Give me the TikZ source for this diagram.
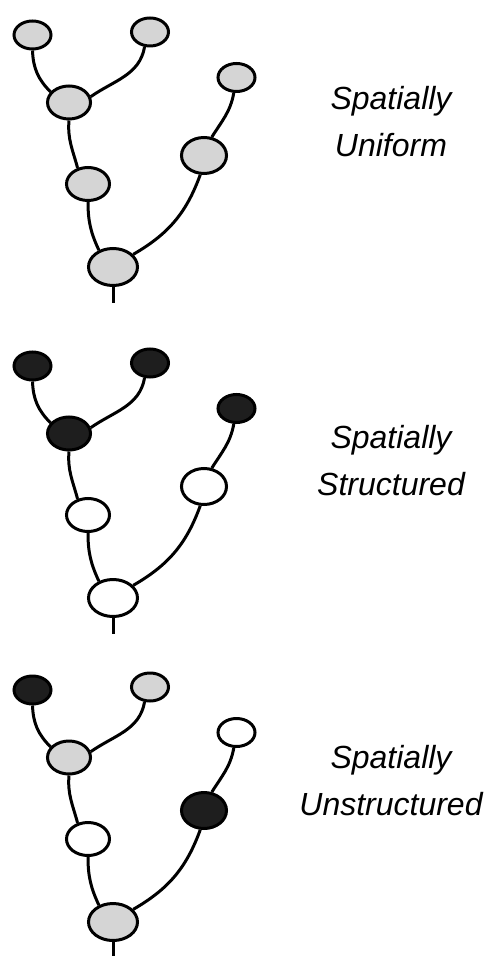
\documentclass[tikz,border=0pt]{standalone}
\usepackage{fontspec}
\setmainfont{Liberation Sans}
\usepackage{tikz}
\usetikzlibrary{shapes.geometric}
\definecolor{cgray}{HTML}{D5D5D5}
\definecolor{cdark}{HTML}{1E1E1E}

\begin{document}
\begin{tikzpicture}[x=0.5pt, y=0.5pt,
  cell/.style={draw, ellipse, line width=1.5pt, inner sep=0pt},
  leaf/.style={cell, minimum width=18.5pt, minimum height=14pt},
  inner/.style={cell, minimum width=21.5pt, minimum height=16.5pt},
  root/.style={cell, minimum width=24.5pt, minimum height=18.5pt},
  branch/.style={line width=1.5pt},
  lbl/.style={font=\fontsize{16pt}{23.5pt}\selectfont\itshape,
              align=center, anchor=north, inner sep=0pt},
]
  \useasboundingbox (0,0) rectangle (488,-956);

  % same tree three times, only the fills change
  \foreach \t/\dy/\ly/\fa/\fb/\fc/\fd/\fe/\ff/\fg/\txt in {
      1/0/86/cgray/cgray/cgray/cgray/cgray/cgray/cgray/{Spatially\\Uniform},
      2/331/425/cdark/cdark/cdark/cdark/white/white/white/{Spatially\\Structured},
      3/655/745/cdark/cgray/white/cgray/cdark/white/cgray/{Spatially\\Unstructured}} {
    \begin{scope}[shift={(0,-\dy)}]
      % leaves
      \node[leaf, fill=\fa] (la\t) at (32.5,-35) {};
      \node[leaf, fill=\fb] (lb\t) at (150,-32) {};
      \node[leaf, fill=\fc] (lc\t) at (236.5,-77.5) {};
      % inner nodes and root
      \node[inner, fill=\fd] (ia\t) at (69,-102.5) {};
      \node[inner, fill=\fe, minimum width=22.5pt, minimum height=18pt] (ib\t) at (204,-155.5) {};
      \node[inner, fill=\ff] (ic\t) at (88,-184) {};
      \node[root, fill=\fg] (r\t) at (113,-267) {};
      \coordinate (s\t) at (113,-303);

      \draw[branch] (la\t.south) to[out=-88, in=135] (ia\t.150);
      \draw[branch] (lb\t.-110) to[out=-100, in=35] (ia\t.15);
      \draw[branch] (lc\t.-100) to[out=-100, in=58] (ib\t.67);
      \draw[branch] (ia\t.south) to[out=-95, in=105] (ic\t.123);
      \draw[branch] (ic\t.south) to[out=-90, in=115] (r\t.130);
      \draw[branch] (ib\t.-101) to[out=-110, in=30] (r\t.32);
      \draw[branch] (r\t.south) -- (s\t);
    \end{scope}
    \node[lbl] (txt\t) at (391,-\ly) {\txt};
  }
\end{tikzpicture}
\end{document}
